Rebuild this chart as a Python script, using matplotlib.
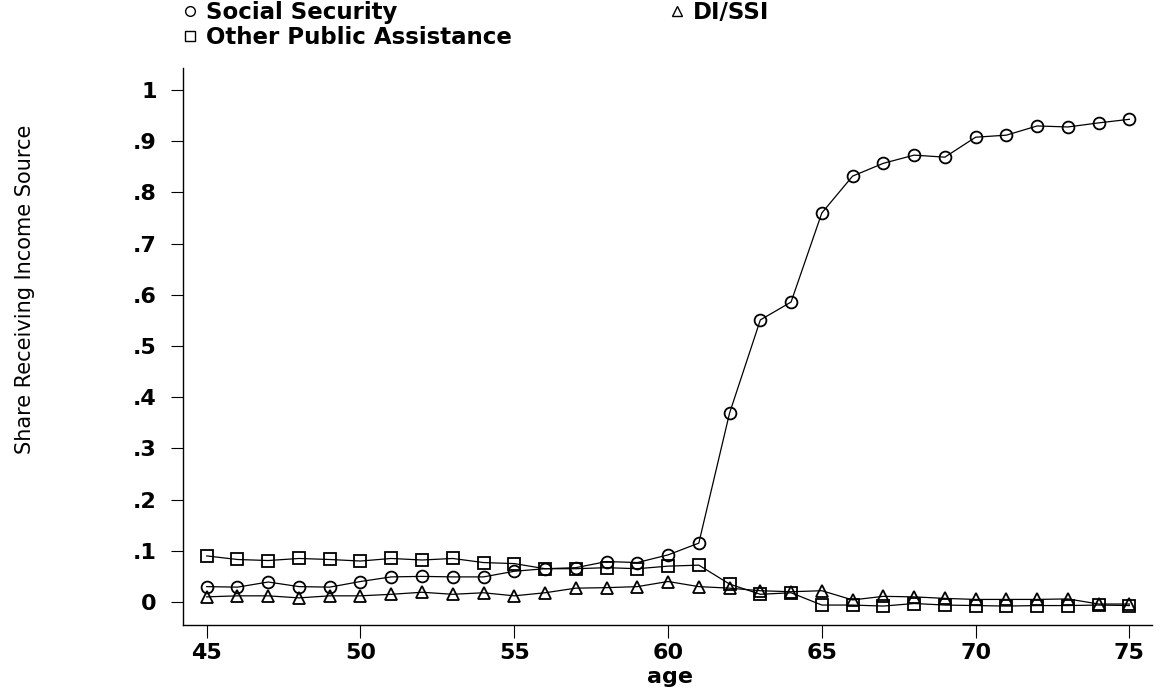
import matplotlib
matplotlib.use('Agg')
import matplotlib.pyplot as plt
from matplotlib.lines import Line2D

plt.rcParams['font.family'] = ['DejaVu Sans']

# data
age = list(range(45, 76))
social_security = [0.030, 0.029, 0.039, 0.030, 0.029, 0.040, 0.049, 0.050, 0.049, 0.049,
                   0.060, 0.065, 0.067, 0.079, 0.077, 0.092, 0.115, 0.369, 0.551, 0.586,
                   0.760, 0.832, 0.857, 0.873, 0.869, 0.908, 0.912, 0.930, 0.928, 0.936, 0.943]
other_public = [0.090, 0.083, 0.081, 0.085, 0.083, 0.080, 0.085, 0.082, 0.085, 0.077,
                0.075, 0.065, 0.065, 0.067, 0.065, 0.070, 0.072, 0.035, 0.015, 0.018,
                -0.006, -0.006, -0.008, -0.003, -0.006, -0.007, -0.008, -0.007, -0.007, -0.006, -0.007]
di_ssi = [0.010, 0.012, 0.012, 0.008, 0.012, 0.012, 0.015, 0.019, 0.015, 0.018,
          0.012, 0.018, 0.027, 0.028, 0.030, 0.040, 0.030, 0.027, 0.022, 0.020,
          0.022, 0.004, 0.011, 0.010, 0.007, 0.005, 0.005, 0.005, 0.006, -0.004, -0.004]
yticks = [0, .1, .2, .3, .4, .5, .6, .7, .8, .9, 1]
ytick_labels = ['0', '.1', '.2', '.3', '.4', '.5', '.6', '.7', '.8', '.9', '1']
xticks = [45, 50, 55, 60, 65, 70, 75]

fig = plt.figure(figsize=(11.62, 6.95), dpi=100)
ax = fig.add_axes([0.1575, 0.1007, 0.8335, 0.8013])

mk = dict(color='black', lw=0.9, mfc='none', mec='black', mew=1.3, ms=8.5)
ax.plot(age, social_security, marker='o', **mk)
ax.plot(age, di_ssi, marker='^', **mk)
ax.plot(age, other_public, marker='s', **mk)

ax.set_xlim(44.23, 75.72)
ax.set_ylim(-0.045, 1.043)
ax.set_yticks(yticks)
ax.set_yticklabels(ytick_labels)
ax.set_xticks(xticks)
for s in ['top', 'right']:
    ax.spines[s].set_visible(False)
for s in ['left', 'bottom']:
    ax.spines[s].set_linewidth(1.0)
ax.tick_params(axis='both', direction='out', length=9, width=0.8, labelsize=16)
ax.tick_params(axis='y', pad=10)
ax.tick_params(axis='x', pad=4)
for lab in ax.get_xticklabels() + ax.get_yticklabels():
    lab.set_fontweight('bold')

fig.text(25 / 1162, 1 - 289 / 695, 'Share Receiving Income Source', rotation=90,
         ha='center', va='center', fontsize=15)
fig.text(670 / 1162, 1 - 677 / 695, 'age', ha='center', va='center',
         fontsize=16, fontweight='bold')

hk = dict(ls='none', mfc='none', mec='black', ms=7, mew=1)
left_handles = [Line2D([], [], marker='o', **hk), Line2D([], [], marker='s', **hk)]
left_labels = ['Social Security', 'Other Public Assistance']
lk = dict(frameon=False, loc='upper left', prop={'size': 16.5, 'weight': 'bold'},
          handlelength=0.6, handletextpad=0.4, labelspacing=0.1,
          borderpad=0, borderaxespad=0)
fig.legend(left_handles, left_labels, bbox_to_anchor=(183 / 1162, 1 - 1 / 695), **lk)
fig.legend([Line2D([], [], marker='^', **hk)], ['DI/SSI'],
           bbox_to_anchor=(670 / 1162, 1 - 1 / 695), **lk)

plt.savefig('out.png', dpi=100)
